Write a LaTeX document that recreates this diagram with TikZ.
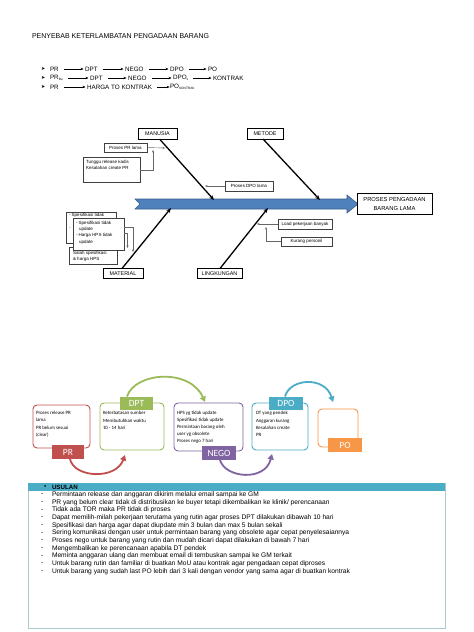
\documentclass[tikz,border=0pt]{standalone}
\usepackage{fontspec}
\setmainfont{Liberation Sans}
\newfontfamily\calfont{Carlito}
\newfontfamily\dejfont{DejaVu Sans}
\usetikzlibrary{arrows.meta}
\definecolor{spineblue}{HTML}{4F81BD}
\definecolor{spineedge}{HTML}{385D8A}
\definecolor{prred}{HTML}{C0504D}
\definecolor{dptgreen}{HTML}{9BBB59}
\definecolor{negopurple}{HTML}{8064A2}
\definecolor{dpoblue}{HTML}{4BACC6}
\definecolor{poorange}{HTML}{F79646}
\definecolor{usulborder}{HTML}{A9CBCC}
\definecolor{usulhead}{HTML}{4BACC6}
\begin{document}
\begin{tikzpicture}[x=1pt,y=-1pt,
  every node/.style={inner sep=0pt, outer sep=0pt},
  rowtxt/.style={anchor=west, font=\fontsize{6.3}{7}\selectfont},
  bul/.style={anchor=west, font=\dejfont\fontsize{5}{6}\selectfont},
  rowarr/.style={-{Stealth[length=3pt,width=2.4pt]}, line width=0.45pt, shorten <=5pt, shorten >=1.5pt},
  catbox/.style={draw=black, line width=0.8pt, fill=white, minimum height=10pt, font=\fontsize{5.4}{6}\selectfont},
  causebox/.style={draw=black!75, line width=0.4pt, fill=white, anchor=north west},
  causetxt/.style={anchor=north west, font=\fontsize{4.5}{5.8}\selectfont, align=left},
  bone/.style={line width=1.3pt, -{Stealth[length=5pt,width=4pt]}},
  causearr/.style={draw=black!60, line width=0.4pt, -{Stealth[length=2.5pt,width=2pt]}},
  card/.style={draw=#1, line width=0.9pt, rounded corners=4pt, fill=white, anchor=north west},
  cardlabel/.style={fill=#1, text=white, anchor=north west, font=\calfont\fontsize{9.5}{10}\selectfont},
  cardtxt/.style={anchor=north west, font=\calfont\fontsize{4.9}{7.3}\selectfont, align=left},
  flow/.style={draw=#1, line width=1.8pt, -{Triangle[length=5.5pt,width=6pt]}},
  usultxt/.style={anchor=west, font=\fontsize{6.65}{7}\selectfont},
]
\useasboundingbox (0,0) rectangle (474,632);
\fill[white] (0,0) rectangle (474,632);

% title
\node[anchor=west, font=\fontsize{7}{8}\selectfont] (title) at (32,36) {PENYEBAB KETERLAMBATAN PENGADAAN BARANG};

% rows
\node[bul] (b1) at (41,69) {➤};
\node[bul] (b2) at (41,78) {➤};
\node[bul] (b3) at (41,87) {➤};

\node[rowtxt] (r1a) at (50,69) {PR};
\node[rowtxt] (r1b) at (85,69) {DPT};
\node[rowtxt] (r1c) at (125,69) {NEGO};
\node[rowtxt] (r1d) at (170,69) {DPO};
\node[rowtxt] (r1e) at (208,69) {PO};
\draw[rowarr] (r1a.east) -- (r1b.west);
\draw[rowarr] (r1b.east) -- (r1c.west);
\draw[rowarr] (r1c.east) -- (r1d.west);
\draw[rowarr] (r1d.east) -- (r1e.west);

\node[rowtxt] (r2a) at (50,78) {PR\raisebox{-1.2pt}{\fontsize{3.2}{4}\selectfont Bu}};
\node[rowtxt] (r2b) at (90,78) {DPT};
\node[rowtxt] (r2c) at (128,78) {NEGO};
\node[rowtxt] (r2d) at (173,78) {DPO\raisebox{-1.2pt}{\fontsize{3.2}{4}\selectfont s}};
\node[rowtxt] (r2e) at (213,78) {KONTRAK};
\draw[rowarr] (r2a.east) -- (r2b.west);
\draw[rowarr] (r2b.east) -- (r2c.west);
\draw[rowarr] (r2c.east) -- (r2d.west);
\draw[rowarr] (r2d.east) -- (r2e.west);

\node[rowtxt] (r3a) at (50,87) {PR};
\node[rowtxt] (r3b) at (87,87) {HARGA TO KONTRAK};
\node[rowtxt] (r3c) at (170,87) {PO\raisebox{-1.2pt}{\fontsize{3.2}{4}\selectfont KONTRAK}};
\draw[rowarr] (r3a.east) -- (r3b.west);
\draw[rowarr, shorten >=0.3pt] (r3b.east) -- (r3c.west);

% ---------- fishbone ----------
\filldraw[fill=spineblue, draw=spineedge, line width=0.6pt]
  (135,199) -- (347,199) -- (347,195) -- (358,204) -- (347,213) -- (347,209) -- (135,209) -- (140,204) -- cycle;
\node[draw=black, line width=0.6pt, fill=white, minimum width=75pt, minimum height=21pt, align=center,
  font=\fontsize{5.8}{9}\selectfont] (head) at (394.5,203.5) {PROSES PENGADAAN\\BARANG LAMA};

\node[catbox, minimum width=39pt, minimum height=11pt] (manusia) at (157.5,133.5) {MANUSIA};
\node[catbox, minimum width=36pt, minimum height=11pt] (metode) at (265,133.5) {METODE};
\node[catbox, minimum width=40pt] (material) at (123,273.5) {MATERIAL};
\node[catbox, minimum width=45pt] (lingkungan) at (219.5,273.5) {LINGKUNGAN};

\coordinate (sm) at (214,200);
\coordinate (st) at (320,200);
\coordinate (sa) at (171,208);
\coordinate (sl) at (268,208);
\draw[bone] ([xshift=2pt]manusia.south) -- (sm);
\draw[bone] ([xshift=-2pt]metode.south) -- (st);
\draw[bone] ([xshift=-1pt]material.north) -- (sa);
\draw[bone] ([xshift=0.5pt]lingkungan.north) -- (sl);

% cause boxes
\node[causebox, minimum width=43pt, minimum height=9pt] (prlama) at (104,143) {};
\node[causetxt, anchor=center] (prlamat) at (prlama.center) {Proses PR lama};
\node[causebox, minimum width=57pt, minimum height=25pt] (tunggu) at (83,157) {};
\node[causetxt] (tunggut) at (86,160) {Tunggu release kadis\\Kesalahan create PR};
\node[causebox, minimum width=48pt, minimum height=10pt] (dpolama) at (225,181) {};
\node[causetxt, anchor=center] (dpolamat) at (dpolama.center) {Proses DPO lama};
\node[causebox, minimum width=54pt, minimum height=10pt] (load) at (278,219) {};
\node[causetxt, anchor=center] (loadt) at (load.center) {Load pekerjaan banyak};
\node[causebox, minimum width=51pt, minimum height=9pt] (kurang) at (281,237) {};
\node[causetxt, anchor=center] (kurangt) at (kurang.center) {Kurang personil};

\coordinate (c1) at (165,148);
\coordinate (c2) at (153,150);
\coordinate (c3) at (205,186);
\coordinate (c4) at (257,224);
\coordinate (c5) at (266,227);
\draw[causearr] (prlama.east) -- (c1);
\draw[causearr] (tunggu.east |- 0,170) -| (c2);
\draw[causearr] (dpolama.west) -- (c3);
\draw[causearr] (load.west) -- (c4);
\draw[causearr] (kurang.west) -| (c5);

% material boxes (box 1 mostly hidden behind box 2)
\node[causebox, minimum width=50pt, minimum height=31pt] (mat1) at (66,212) {};
\node[causetxt, font=\fontsize{4.5}{6}\selectfont] (mat1t) at (69,213.2) {- Spesifikasi tidak};
\node[causetxt, font=\fontsize{4.5}{6}\selectfont] (mat1d) at (69,228) {-};
\node[causebox, minimum width=48pt, minimum height=17pt] (mat3) at (69,247) {};
\node[causebox, minimum width=51pt, minimum height=32pt] (mat2) at (73,218) {};
\node[causetxt, font=\fontsize{4.5}{6.3}\selectfont] (mat2t) at (76,221) {- Spesifikasi tidak\\\hspace*{3pt}update\\- Harga HPS tidak\\\hspace*{3pt}update};
\node[causetxt, font=\fontsize{4.5}{6.6}\selectfont] (mat3t) at (73,251) {Salah spesifikasi\\\& harga HPS};
\coordinate (mc1) at (133,252);
\coordinate (mc2) at (127.5,248);
\draw[causearr] (mat2.east |- 0,227) -| (mc1);
\draw[causearr] (mat2.east |- 0,233) -| (mc2);

% ---------- process cards ----------
\node[card=prred, minimum width=57pt, minimum height=43pt] (prcard) at (33,405) {};
\node[card=dptgreen, minimum width=64pt, minimum height=47pt] (dptcard) at (100,403) {};
\node[card=negopurple, minimum width=69pt, minimum height=48pt] (negocard) at (174,403) {};
\node[card=dpoblue, minimum width=56pt, minimum height=47pt] (dpocard) at (252,403) {};
\node[card=poorange, minimum width=40pt, minimum height=38pt] (pocard) at (318,409) {};

\node[cardlabel=prred, minimum width=32pt, minimum height=14pt] (prlab) at (52,445) {PR};
\node[cardlabel=dptgreen, minimum width=33pt, minimum height=13pt] (dptlab) at (120,396.5) {DPT};
\node[cardlabel=negopurple, minimum width=34pt, minimum height=14pt] (negolab) at (202,446) {NEGO};
\node[cardlabel=dpoblue, minimum width=34pt, minimum height=13pt] (dpolab) at (269,396.5) {DPO};
\node[cardlabel=poorange, minimum width=34pt, minimum height=14pt] (polab) at (328,438) {PO};

\node[cardtxt] (prtxt) at (36,411) {Proses release PR\\lama\\PR belum sesuai\\(clear)};
\node[cardtxt] (dpttxt) at (103,411.5) {Keterbatasan sumber\\Membutuhkan waktu\\10 - 14 hari};
\node[cardtxt, font=\calfont\fontsize{4.9}{7}\selectfont] (negotxt) at (177,411) {HPS yg tidak update\\Spesifikasi tidak update\\Permintaan barang oleh\\user yg obsolete\\Proses nego 7 hari};
\node[cardtxt] (dpotxt) at (256,411.5) {DT yang pendek\\Anggaran kurang\\Kesalahan create\\PR};

\coordinate (f1) at (125,455);
\coordinate (f2) at (205,402);
\coordinate (f3) at (272,454);
\coordinate (f4) at (333,402);
\draw[flow=prred] (prlab.south -| 70,0) .. controls (74,478) and (116,480) .. (f1);
\draw[flow=dptgreen] (dptlab.north -| 127,0) .. controls (135,372) and (190,368) .. (f2);
\draw[flow=negopurple] (negolab.south -| 220,0) .. controls (225,478) and (265,482) .. (f3);
\draw[flow=dpoblue] (dpolab.north -| 285,0) .. controls (290,378) and (325,376) .. (f4);

% ---------- USULAN ----------
\node[draw=usulborder, line width=1pt, anchor=north west, minimum width=417pt, minimum height=145pt] (usul) at (28,483) {};
\node[fill=usulhead, anchor=north west, minimum width=417pt, minimum height=8pt] (usulbar) at (28,483) {};
\node[anchor=west, font=\fontsize{6.4}{7}\selectfont] (usulbul) at (44,487.2) {•};
\node[anchor=west, font=\bfseries\fontsize{6.2}{7}\selectfont] (usulh) at (52,487.2) {USULAN};
\foreach \t [count=\i] in {
  Permintaan release dan anggaran dikirim melalui email sampai ke GM,
  PR yang belum clear tidak di distribusikan ke buyer tetapi dikembalikan ke klinik/ perencanaan,
  Tidak ada TOR maka PR tidak di proses,
  Dapat memilih-milah pekerjaan terutama yang rutin agar proses DPT dilakukan dibawah 10 hari,
  Spesifikasi dan harga agar dapat diupdate min 3 bulan dan max 5 bulan sekali,
  Sering komunikasi dengan user untuk permintaan barang yang obsolete agar cepat penyelesaiannya,
  Proses nego untuk barang yang rutin dan mudah dicari dapat dilakukan di bawah 7 hari,
  Mengembalikan ke perencanaan apabila DT pendek,
  Meminta anggaran ulang dan membuat email di tembuskan sampai ke GM terkait,
  Untuk barang rutin dan familiar di buatkan MoU atau kontrak agar pengadaan cepat diproses,
  Untuk barang yang sudah last PO lebih dari 3 kali dengan vendor yang sama agar di buatkan kontrak}
{
  \node[usultxt] (ud\i) at (41,{494.8+(\i-1)*7.65}) {-};
  \node[usultxt] (ut\i) at (52,{494.8+(\i-1)*7.65}) {\t};
}
\end{tikzpicture}
\end{document}
